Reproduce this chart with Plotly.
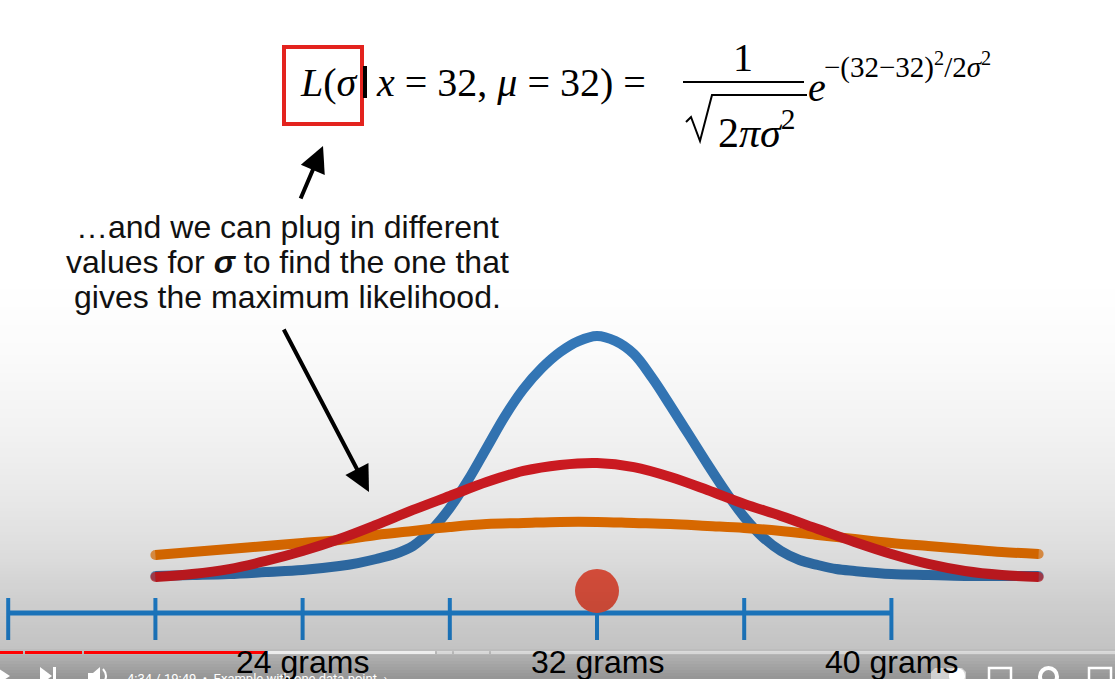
import plotly.graph_objects as go

W, H = 1115, 679

# ---------------- data ----------------
# blue curve (small sigma): sampled more finely where it is steep
BLUE_GRAMS = [20, 21, 22, 23, 24, 25, 25.5, 26, 26.5, 27, 27.5, 28, 28.5, 29, 29.5, 30, 30.5,
              31, 31.5, 32, 32.5, 33, 33.5, 34, 34.5, 35, 35.5, 36, 36.5, 37, 37.5, 38,
              38.5, 39, 40, 41, 42, 43, 44]
LIK_BLUE = [0.0007, 0.0013, 0.0020, 0.0033, 0.0047, 0.0073, 0.0093, 0.0120, 0.0153, 0.0207,
            0.0313, 0.0460, 0.0647, 0.0860, 0.1073, 0.1253, 0.1393, 0.1500, 0.1573, 0.1607,
            0.1573, 0.1487, 0.1327, 0.1140, 0.0947, 0.0753, 0.0567, 0.0400, 0.0267, 0.0173,
            0.0113, 0.0080, 0.0053, 0.0040, 0.0020, 0.0013, 0.0007, 0.0007, 0.0007]

GRAMS = list(range(20, 45))  # x positions of the other two curves (grams)
LIK_ORANGE = [0.0147, 0.0167, 0.0187, 0.0207, 0.0227, 0.0247, 0.0280, 0.0307, 0.0333,
              0.0353, 0.0360, 0.0367, 0.0367, 0.0360, 0.0353, 0.0340, 0.0327, 0.0307,
              0.0280, 0.0253, 0.0227, 0.0207, 0.0187, 0.0167, 0.0153]
LIK_RED = [0.0000, 0.0020, 0.0053, 0.0107, 0.0173, 0.0253, 0.0347, 0.0447, 0.0540,
           0.0633, 0.0707, 0.0747, 0.0760, 0.0733, 0.0667, 0.0580, 0.0487, 0.0407,
           0.0320, 0.0233, 0.0153, 0.0087, 0.0040, 0.0013, 0.0000]

DATA_POINT = [32]
TICK_GRAMS = [16, 20, 24, 28, 32, 36, 40]
LABEL_GRAMS = [24, 32, 40]
LABEL_TEXT = ["24 grams", "32 grams", "40 grams"]

# ---------------- styles / layout constants ----------------
X_RANGE = [15.777, 46.076]
Y_RANGE = [-0.068, 0.38467]
AXIS_Y = -0.0240
TICK_Y = (-0.0140, -0.0420)
DOT_Y = -0.0093

BLUE = "#3579ba"
ORANGE = "#f27500"
RED = "#da1d24"
DOT = "#f85a44"
AXIS_BLUE = "#2290e8"
SERIF = "Liberation Serif"
SANS = "Liberation Sans"


def px(x):
    return x / W


def py(y):
    return 1 - y / H


fig = go.Figure()


def curve(xs, vals, color, name):
    n = len(vals)
    fig.add_trace(go.Scatter(
        x=xs, y=vals, mode="lines+markers", name=name,
        line=dict(color=color, width=10, shape="spline", smoothing=1.0),
        marker=dict(color=color, size=[10] + [0] * (n - 2) + [10], line=dict(width=0)),
        hoverinfo="skip", showlegend=False))


curve(BLUE_GRAMS, LIK_BLUE, BLUE, "small sigma")
curve(GRAMS, LIK_ORANGE, ORANGE, "large sigma")
curve(GRAMS, LIK_RED, RED, "medium sigma")

# number line
fig.add_trace(go.Scatter(x=[TICK_GRAMS[0], TICK_GRAMS[-1]], y=[AXIS_Y, AXIS_Y], mode="lines",
                         line=dict(color=AXIS_BLUE, width=5), hoverinfo="skip", showlegend=False))
tx, ty = [], []
for g in TICK_GRAMS:
    tx += [g, g, None]
    ty += [TICK_Y[0], TICK_Y[1], None]
fig.add_trace(go.Scatter(x=tx, y=ty, mode="lines", line=dict(color=AXIS_BLUE, width=4),
                         hoverinfo="skip", showlegend=False))

# the data point
fig.add_trace(go.Scatter(x=DATA_POINT, y=[DOT_Y] * len(DATA_POINT), mode="markers",
                         marker=dict(color=DOT, size=44, line=dict(width=0)),
                         hoverinfo="skip", showlegend=False))

shapes = []
# video player gradient overlay
knots = [(280, 0.0), (350, 0.015), (430, 0.05), (500, 0.09), (560, 0.14), (600, 0.19),
         (648, 0.235), (656, 0.31), (679, 0.42)]


def alpha_at(y):
    for (y0, a0), (y1, a1) in zip(knots[:-1], knots[1:]):
        if y0 <= y <= y1:
            return a0 + (a1 - a0) * (y - y0) / (y1 - y0)
    return knots[-1][1]


step = 3
y = knots[0][0]
while y < H:
    a = alpha_at(y + step / 2)
    shapes.append(dict(type="rect", xref="paper", yref="paper", x0=0, x1=1,
                       y0=py(y + step), y1=py(y), fillcolor=f"rgba(0,0,0,{a:.4f})",
                       line=dict(width=0), layer="above"))
    y += step


# progress bar
def bar(x0, x1, color):
    shapes.append(dict(type="rect", xref="paper", yref="paper", x0=px(x0), x1=px(x1),
                       y0=py(654), y1=py(651), fillcolor=color, line=dict(width=0), layer="above"))


bar(0, 23, "#ff0000")
bar(25, 82, "#ff0000")
bar(84, 265, "#ff0000")
bar(265, 435, "rgba(255,255,255,0.75)")
bar(437, 452, "rgba(255,255,255,0.45)")
bar(454, 489, "rgba(255,255,255,0.45)")
bar(491, 1115, "rgba(255,255,255,0.45)")


# control icons (partly cut off at the bottom edge)
def path(points, fill="white"):
    d = "M " + " L ".join(f"{px(a):.5f},{py(b):.5f}" for a, b in points) + " Z"
    shapes.append(dict(type="path", xref="paper", yref="paper", path=d, fillcolor=fill,
                       line=dict(width=0), layer="above"))


path([(-4, 667), (10, 676), (-4, 685)])
path([(40, 667), (52, 676), (40, 685)])
path([(53, 667), (56, 667), (56, 685), (53, 685)])
path([(88, 673), (93, 673), (100, 667), (100, 686), (93, 680), (88, 680)])
shapes.append(dict(type="path", xref="paper", yref="paper",
                   path=f"M {px(103):.5f},{py(669):.5f} Q {px(109):.5f},{py(676):.5f} {px(103):.5f},{py(683):.5f}",
                   line=dict(color="white", width=2), layer="above"))
path([(935, 668), (962, 668), (966, 672), (966, 686), (931, 686), (931, 672)], "rgba(255,255,255,0.55)")
shapes.append(dict(type="circle", xref="paper", yref="paper", x0=px(949), x1=px(965),
                   y0=py(684), y1=py(668), fillcolor="white", line=dict(width=0), layer="above"))
shapes.append(dict(type="rect", xref="paper", yref="paper", x0=px(989), x1=px(1011),
                   y0=py(690), y1=py(668), line=dict(color="white", width=2.5), layer="above"))
shapes.append(dict(type="circle", xref="paper", yref="paper", x0=px(1040), x1=px(1057),
                   y0=py(685), y1=py(668), line=dict(color="white", width=4), layer="above"))
shapes.append(dict(type="rect", xref="paper", yref="paper", x0=px(1089), x1=px(1111),
                   y0=py(690), y1=py(668), line=dict(color="white", width=2.5), layer="above"))

# formula decorations
shapes.append(dict(type="rect", xref="paper", yref="paper", x0=px(284), x1=px(362),
                   y0=py(124), y1=py(47), line=dict(color="#e3231e", width=4)))
shapes.append(dict(type="line", xref="paper", yref="paper", x0=px(365), x1=px(365),
                   y0=py(98), y1=py(66), line=dict(color="black", width=4)))
shapes.append(dict(type="line", xref="paper", yref="paper", x0=px(683), x1=px(804),
                   y0=py(82), y1=py(82), line=dict(color="black", width=2)))
shapes.append(dict(type="path", xref="paper", yref="paper",
                   path="M " + " L ".join(f"{px(a):.5f},{py(b):.5f}" for a, b in
                                           [(686, 122), (691, 117), (700, 141), (712, 95), (807, 95)]),
                   line=dict(color="black", width=2)))

annotations = []


def text(x, y, s, size, family=SERIF, xanchor="left", color="black", yanchor="middle"):
    annotations.append(dict(x=px(x), y=py(y), xref="paper", yref="paper", text=s,
                            showarrow=False, xanchor=xanchor, yanchor=yanchor,
                            font=dict(family=family, size=size, color=color)))


text(298, 82, "<i>L</i>(<i>σ</i>", 40)
text(374, 82, "<i>x</i> = 32, <i>μ</i> = 32) =", 40)
text(743, 57, "1", 40, xanchor="center")
text(756, 129, "2<i>πσ</i><sup>2</sup>", 42, xanchor="center")
text(806, 88, "<i>e</i>", 40)
text(822, 66, "−(32−32)<sup>2</sup>/2<i>σ</i><sup>2</sup>", 29)

text(287, 227, "…and we can plug in different", 32, SANS, "center", "#111111")
text(287, 262, "values for <b><i>σ</i></b> to find the one that", 32, SANS, "center", "#111111")
text(287, 297, "gives the maximum likelihood.", 32, SANS, "center", "#111111")

# tick labels
for g, s in zip(LABEL_GRAMS, LABEL_TEXT):
    annotations.append(dict(x=g, y=py(662), xref="x", yref="paper", text=s, showarrow=False,
                            xanchor="center", yanchor="middle",
                            font=dict(family=SANS, size=32, color="black")))

# player caption
text(125, 669, "4:34 / 19:49  •  Example with one data point  ›", 13, "Roboto", "left",
     "white", "top")

# arrows
for (hx, hy), (tx0, ty0) in [((323, 146), (300, 200)), ((369, 492), (283, 328))]:
    annotations.append(dict(x=px(hx), y=py(hy), xref="paper", yref="paper", text="",
                            showarrow=True, ax=tx0 - hx, ay=ty0 - hy, arrowhead=2,
                            arrowsize=1.3, arrowwidth=4, arrowcolor="black",
                            standoff=0, startstandoff=0))

fig.update_layout(
    width=W, height=H, autosize=False,
    margin=dict(l=0, r=0, t=0, b=0, pad=0),
    paper_bgcolor="white", plot_bgcolor="white",
    xaxis=dict(range=X_RANGE, visible=False, fixedrange=True),
    yaxis=dict(range=Y_RANGE, visible=False, fixedrange=True),
    shapes=shapes, annotations=annotations, showlegend=False,
)

fig.write_html("out.html", config={"displayModeBar": False},
               post_script="document.body.style.margin='0';")
